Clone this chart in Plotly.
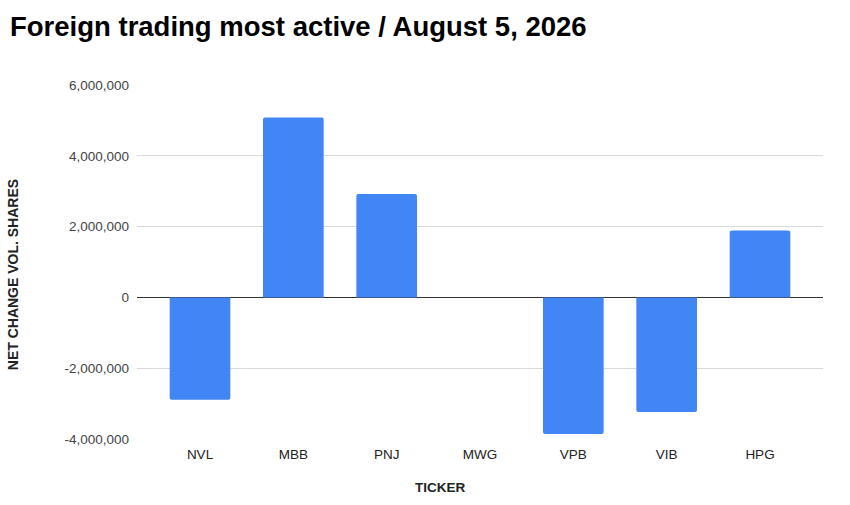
import plotly.graph_objects as go

tickers = ["NVL", "MBB", "PNJ", "MWG", "VPB", "VIB", "HPG"]
net_change = [-2890000, 5080000, 2920000, 0, -3860000, -3240000, 1890000]

y_ticks = [-4000000, -2000000, 0, 2000000, 4000000, 6000000]
y_tick_labels = ["-4,000,000", "-2,000,000", "0", "2,000,000", "4,000,000", "6,000,000"]

W, H = 850, 505

fig = go.Figure(
    go.Bar(
        x=tickers,
        y=net_change,
        marker=dict(color="#4285f4", line=dict(width=0), cornerradius=2),
        hovertemplate="%{x}: %{y:,}<extra></extra>",
    )
)

fig.update_layout(
    width=W,
    height=H,
    paper_bgcolor="white",
    plot_bgcolor="white",
    font=dict(family="Liberation Sans, Arial, sans-serif", color="#444444", size=13.5),
    title=dict(
        text="<b>Foreign trading most active / August 5, 2026</b>",
        x=10 / W,
        xanchor="left",
        y=1 - 26 / H,
        yanchor="middle",
        font=dict(size=27.5, color="#000000"),
    ),
    margin=dict(l=137, r=27, t=85, b=66),
    bargap=0.35,
    showlegend=False,
)

# axis titles sit a little off-centre in the original, so place them by hand
fig.add_annotation(
    text="<b>TICKER</b>",
    xref="paper", yref="paper",
    x=(440 - 137) / 686, y=-(488 - 439.5) / 354.5,
    xanchor="center", yanchor="middle",
    showarrow=False,
    font=dict(size=13.5, color="#222222"),
)
fig.add_annotation(
    text="<b>NET CHANGE VOL. SHARES</b>",
    xref="paper", yref="paper",
    x=-(137 - 12.5) / 686, y=(439.5 - 275) / 354.5,
    xanchor="center", yanchor="middle",
    textangle=-90,
    showarrow=False,
    font=dict(size=14, color="#222222"),
)

fig.update_xaxes(
    range=[-0.675, 6.675],
    showgrid=False,
    showline=False,
    ticks="",
    ticklabelstandoff=5,
    tickfont=dict(size=13.5, color="#222222"),
    automargin=False,
)

fig.update_yaxes(
    range=[-4000000, 6000000],
    tickvals=y_ticks,
    ticktext=y_tick_labels,
    showgrid=True,
    gridcolor="#d9d9d9",
    gridwidth=1,
    zeroline=True,
    zerolinecolor="#333333",
    zerolinewidth=1,
    ticks="",
    ticklabelstandoff=7,
    tickfont=dict(size=13.5, color="#444444"),
    automargin=False,
)

# the page's default body margin shifts the chart by 8px
fig.write_html(
    "out.html",
    config={"displayModeBar": False},
    post_script="document.body.style.margin='0';",
)
